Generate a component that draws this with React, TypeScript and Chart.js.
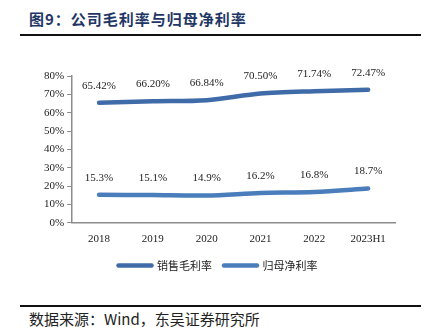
import React, { useEffect, useRef } from "react";
import { Chart, registerables } from "chart.js";

Chart.register(...registerables);

const categories = ["2018", "2019", "2020", "2021", "2022", "2023H1"];
const grossMargin = [65.42, 66.2, 66.84, 70.5, 71.74, 72.47];
const netMargin = [15.3, 15.1, 14.9, 16.2, 16.8, 18.7];
const seriesNames = ["销售毛利率", "归母净利率"];
const yTicks = [0, 10, 20, 30, 40, 50, 60, 70, 80];
const decimals = [2, 1];

const SERIF = '"Liberation Serif", "Times New Roman", serif';
const CJK = '"Noto Sans CJK SC", sans-serif';

const labelPlugin = {
  id: "valueLabels",
  afterDatasetsDraw(chart: any) {
    const ctx = chart.ctx;
    ctx.save();
    ctx.font = `11px ${SERIF}`;
    ctx.fillStyle = "#222";
    ctx.textAlign = "center";
    ctx.textBaseline = "middle";
    chart.data.datasets.forEach((ds: any, i: number) => {
      const meta = chart.getDatasetMeta(i);
      meta.data.forEach((pt: any, j: number) => {
        const v = ds.data[j] as number;
        ctx.fillText(v.toFixed(decimals[i]) + "%", pt.x, pt.y - 17);
      });
    });
    ctx.restore();
  },
};

export default function App() {
  const ref = useRef<HTMLCanvasElement>(null);
  useEffect(() => {
    if (!ref.current) return;
    const chart = new Chart(ref.current, {
      type: "line",
      data: {
        labels: categories,
        datasets: [
          {
            label: seriesNames[0],
            data: grossMargin,
            borderColor: "#3F6CA8",
            backgroundColor: "#3F6CA8",
            borderWidth: 4.5,
            pointRadius: 0,
            tension: 0.3,
            borderCapStyle: "round",
          },
          {
            label: seriesNames[1],
            data: netMargin,
            borderColor: "#4A7DBB",
            backgroundColor: "#4A7DBB",
            borderWidth: 4.5,
            pointRadius: 0,
            tension: 0.3,
            borderCapStyle: "round",
          },
        ],
      },
      options: {
        animation: false,
        responsive: false,
        layout: { padding: { left: 41, right: 35, top: 26, bottom: 4 } },
        plugins: {
          tooltip: { enabled: false },
          legend: {
            position: "bottom",
            labels: {
              usePointStyle: true,
              pointStyle: "line",
              pointStyleWidth: 33,
              boxHeight: 4,
              padding: 12,
              color: "#222",
              font: { family: CJK, size: 11 },
              generateLabels: (c: any) =>
                c.data.datasets.map((ds: any, i: number) => ({
                  text: ds.label,
                  fillStyle: ds.borderColor,
                  strokeStyle: ds.borderColor,
                  lineWidth: 4.5,
                  lineCap: "round",
                  pointStyle: "line",
                  hidden: false,
                  datasetIndex: i,
                  fontColor: "#222",
                })),
            },
          },
        },
        scales: {
          x: {
            offset: true,
            grid: { display: false },
            border: { display: true, color: "#8c8c8c", width: 1.5 },
            ticks: { color: "#222", font: { family: SERIF, size: 11 }, padding: 2 },
          },
          y: {
            min: 0,
            max: 80,
            afterBuildTicks: (s: any) => {
              s.ticks = yTicks.map((v) => ({ value: v }));
            },
            grid: { drawOnChartArea: false, drawTicks: true, tickLength: 5, color: "#8c8c8c" },
            border: { display: true, color: "#8c8c8c", width: 1.5 },
            ticks: {
              color: "#222",
              padding: 3,
              font: { family: SERIF, size: 11 },
              callback: (v: any) => v + "%",
            },
          },
        },
      },
      plugins: [labelPlugin],
    });
    return () => chart.destroy();
  }, []);

  return (
    <div style={{ position: "absolute", left: 0, top: 0, width: 430, height: 332, background: "#fff", overflow: "hidden" }}>
      <div
        style={{
          position: "absolute",
          left: 29,
          top: 9,
          fontFamily: CJK,
          fontWeight: 700,
          fontSize: 15,
          letterSpacing: 1,
          color: "#1F3766",
          lineHeight: "20px",
          whiteSpace: "nowrap",
        }}
      >
        图9：公司毛利率与归母净利率
      </div>
      <div style={{ position: "absolute", left: 20, top: 34, width: 401, height: 2, background: "#111" }} />
      <canvas ref={ref} width={430} height={235} style={{ position: "absolute", left: 0, top: 50, width: 430, height: 235 }} />
      <div style={{ position: "absolute", left: 20, top: 305, width: 401, height: 1.5, background: "#111" }} />
      <div
        style={{
          position: "absolute",
          left: 29,
          top: 309,
          fontFamily: CJK,
          fontSize: 15,
          color: "#222",
          lineHeight: "20px",
          whiteSpace: "nowrap",
        }}
      >
        数据来源：Wind，东吴证券研究所
      </div>
    </div>
  );
}
